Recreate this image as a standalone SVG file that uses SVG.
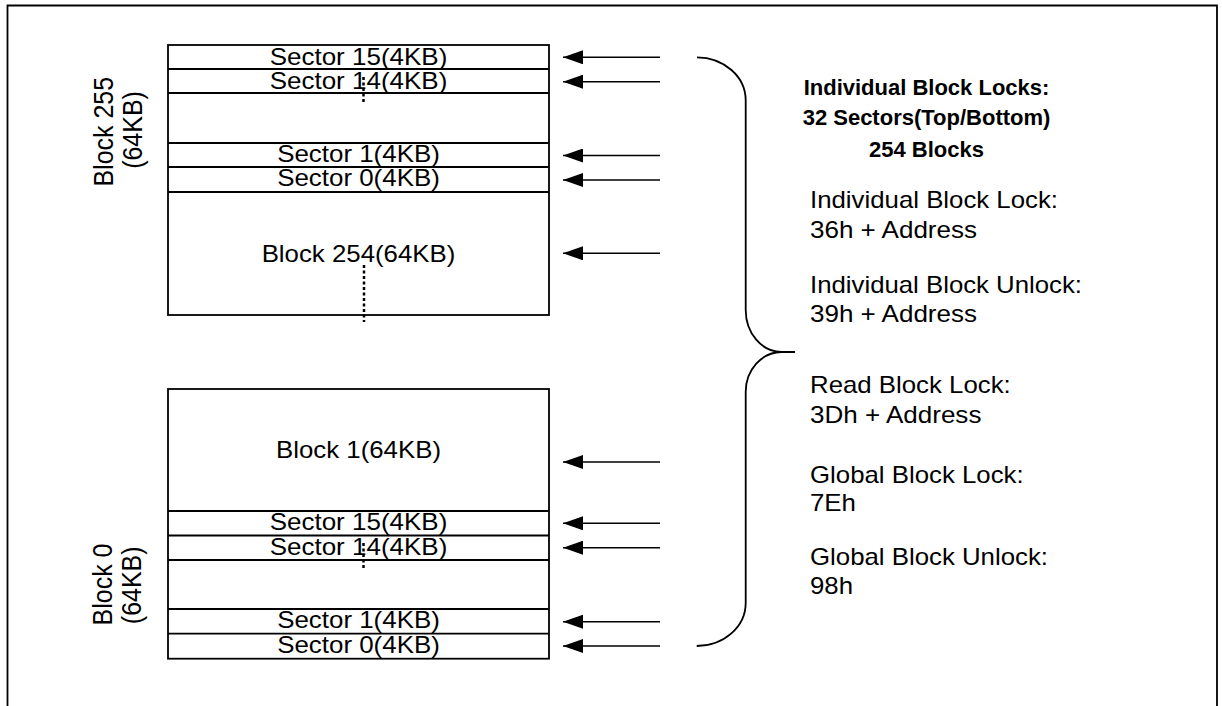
<svg xmlns="http://www.w3.org/2000/svg" width="1222" height="706" viewBox="0 0 1222 706">
<style>
  .ln { fill: none; stroke: #000; stroke-width: 1.8; }
  .cell { fill: #fff; stroke: #000; stroke-width: 1.8; }
  .dot { fill: none; stroke: #000; stroke-width: 2.5; stroke-dasharray: 3 2.5; }
  .arr { fill: none; stroke: #000; stroke-width: 1.5; marker-end: url(#ah); }
  .t { font-family: "Liberation Sans", Arial, sans-serif; font-size: 24px; fill: #000; }
  .c { text-anchor: middle; }
  .rt { font-family: "Liberation Sans", Arial, sans-serif; font-size: 25px; fill: #000; text-anchor: middle; }
  .h { font-family: "Liberation Sans", Arial, sans-serif; font-size: 22px; font-weight: bold; fill: #000; text-anchor: middle; }
</style>
<defs>
  <marker id="ah" viewBox="0 0 20 14" refX="20" refY="7" markerWidth="20" markerHeight="14" markerUnits="userSpaceOnUse" orient="auto">
    <path d="M0,0 L20,7 L0,14 z" fill="#000"/>
  </marker>
</defs>
<rect width="1222" height="706" fill="#fff"/>
<path id="frame" class="ln" d="M7.5,706 V5.5 H1217 V706"/>

<g id="block255">
  <rect class="cell" x="168" y="45" width="381" height="270"/>
  <line class="ln" x1="168" y1="69" x2="549" y2="69"/>
  <line class="ln" x1="168" y1="93" x2="549" y2="93"/>
  <line class="ln" x1="168" y1="143" x2="549" y2="143"/>
  <line class="ln" x1="168" y1="167" x2="549" y2="167"/>
  <line class="ln" x1="168" y1="192" x2="549" y2="192"/>
  <text class="t c" x="358.5" y="65" textLength="177.7" lengthAdjust="spacingAndGlyphs">Sector 15(4KB)</text>
  <text class="t c" x="358.5" y="89.3" textLength="177.7" lengthAdjust="spacingAndGlyphs">Sector 14(4KB)</text>
  <text class="t c" x="358.5" y="161.7" textLength="162.7" lengthAdjust="spacingAndGlyphs">Sector 1(4KB)</text>
  <text class="t c" x="358.5" y="186" textLength="162.7" lengthAdjust="spacingAndGlyphs">Sector 0(4KB)</text>
  <line class="dot" x1="363.5" y1="77" x2="363.5" y2="103"/>
  <text class="rt" transform="translate(112.7,131.7) scale(1.08,1) rotate(-90)">Block 255</text>
  <text class="rt" transform="translate(141.7,130) scale(1.08,1) rotate(-90)">(64KB)</text>
</g>

<g id="block254">
  <text class="t c" x="358.5" y="261.7" textLength="193.7" lengthAdjust="spacingAndGlyphs">Block 254(64KB)</text>
  <line class="dot" x1="364" y1="265" x2="364" y2="322"/>
</g>

<g id="block1">
  <rect class="cell" x="168" y="389" width="381" height="269.7"/>
  <text class="t c" x="358.5" y="457.7" textLength="165" lengthAdjust="spacingAndGlyphs">Block 1(64KB)</text>
</g>

<g id="block0">
  <line class="ln" x1="168" y1="511" x2="549" y2="511"/>
  <line class="ln" x1="168" y1="535.5" x2="549" y2="535.5"/>
  <line class="ln" x1="168" y1="560" x2="549" y2="560"/>
  <line class="ln" x1="168" y1="609" x2="549" y2="609"/>
  <line class="ln" x1="168" y1="633.7" x2="549" y2="633.7"/>
  <text class="t c" x="358.5" y="530" textLength="177.7" lengthAdjust="spacingAndGlyphs">Sector 15(4KB)</text>
  <text class="t c" x="358.5" y="555" textLength="177.7" lengthAdjust="spacingAndGlyphs">Sector 14(4KB)</text>
  <text class="t c" x="358.5" y="628.3" textLength="162.7" lengthAdjust="spacingAndGlyphs">Sector 1(4KB)</text>
  <text class="t c" x="358.5" y="652.7" textLength="162.7" lengthAdjust="spacingAndGlyphs">Sector 0(4KB)</text>
  <line class="dot" x1="363.5" y1="543" x2="363.5" y2="570"/>
  <text class="rt" transform="translate(112.3,584.5) scale(1.08,1) rotate(-90)">Block 0</text>
  <text class="rt" transform="translate(141,585.3) scale(1.08,1) rotate(-90)">(64KB)</text>
</g>

<g id="connectors">
  <line class="arr" x1="660" y1="57.3" x2="563" y2="57.3"/>
  <line class="arr" x1="660" y1="81.7" x2="563" y2="81.7"/>
  <line class="arr" x1="660" y1="155.5" x2="563" y2="155.5"/>
  <line class="arr" x1="660" y1="180" x2="563" y2="180"/>
  <line class="arr" x1="660" y1="253.3" x2="563" y2="253.3"/>
  <line class="arr" x1="660" y1="462" x2="563" y2="462"/>
  <line class="arr" x1="660" y1="523.3" x2="563" y2="523.3"/>
  <line class="arr" x1="660" y1="547.7" x2="563" y2="547.7"/>
  <line class="arr" x1="660" y1="621.7" x2="563" y2="621.7"/>
  <line class="arr" x1="660" y1="646" x2="563" y2="646"/>
</g>

<g id="brace">
  <path class="ln" d="M697,57.3 A49,43 0 0 1 745.7,100.3 L745.7,310 A36,42 0 0 0 781.7,352 L795,352 M781.7,352 A36,40 0 0 0 745.7,392 L745.7,603 A49,43 0 0 1 696.7,646"/>
</g>

<g id="legend">
  <text class="h" x="926.5" y="95">Individual Block Locks:</text>
  <text class="h" x="926.5" y="125">32 Sectors(Top/Bottom)</text>
  <text class="h" x="926.5" y="157">254 Blocks</text>
  <text class="t" x="810" y="208" textLength="248" lengthAdjust="spacingAndGlyphs">Individual Block Lock:</text>
  <text class="t" x="810" y="238" textLength="167" lengthAdjust="spacingAndGlyphs">36h + Address</text>
  <text class="t" x="810" y="293" textLength="272" lengthAdjust="spacingAndGlyphs">Individual Block Unlock:</text>
  <text class="t" x="810" y="322" textLength="167" lengthAdjust="spacingAndGlyphs">39h + Address</text>
  <text class="t" x="810" y="393" textLength="200.7" lengthAdjust="spacingAndGlyphs">Read Block Lock:</text>
  <text class="t" x="810" y="423" textLength="171.4" lengthAdjust="spacingAndGlyphs">3Dh + Address</text>
  <text class="t" x="810" y="483" textLength="213.6" lengthAdjust="spacingAndGlyphs">Global Block Lock:</text>
  <text class="t" x="810" y="511" textLength="45.9" lengthAdjust="spacingAndGlyphs">7Eh</text>
  <text class="t" x="810" y="565" textLength="238" lengthAdjust="spacingAndGlyphs">Global Block Unlock:</text>
  <text class="t" x="810" y="594" textLength="43" lengthAdjust="spacingAndGlyphs">98h</text>
</g>
</svg>
